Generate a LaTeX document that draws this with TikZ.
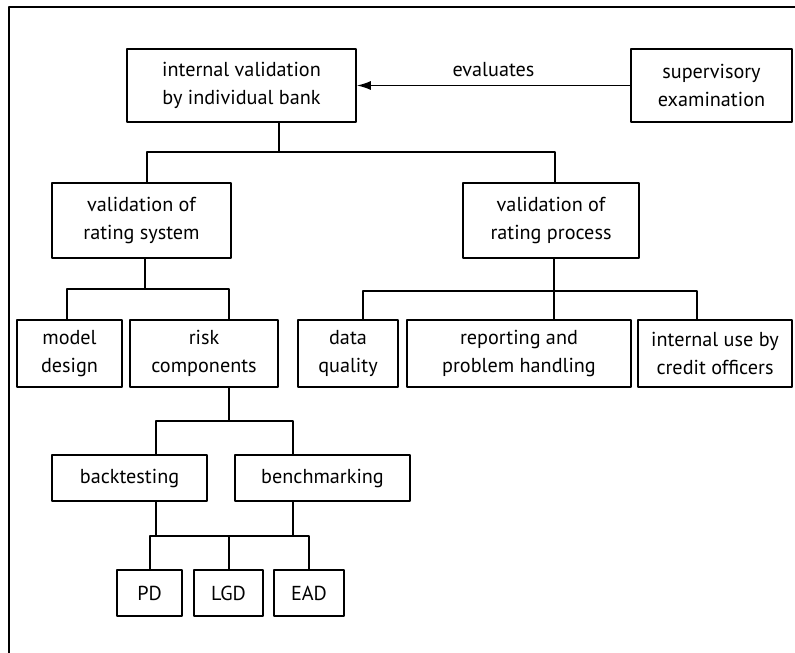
\documentclass[tikz,border=0pt]{standalone}
\usepackage{fontspec}
\setmainfont{PT Sans}
\usetikzlibrary{arrows.meta}
\begin{document}
\begin{tikzpicture}[x=1pt, y=-1pt, line join=round, >={Latex[length=14pt,width=9pt]},
	font=\fontsize{20.2}{28}\selectfont,
	box/.style={draw, line width=1.6pt, inner sep=0pt, align=center},
	link/.style={line width=1.6pt}]
		\useasboundingbox (0,0) rectangle (795,653);
		\draw[line width=2.4pt] (9,653)--(9,7)--(795,7);
		% boxes
		\node[box, minimum width=229, minimum height=73] (top) at (241.5,85.5) {internal validation\\by individual bank};
		\node[box, minimum width=161, minimum height=73] (sup) at (711.5,85.5) {supervisory\\examination};
		\node[box, minimum width=179, minimum height=75] (sys) at (141.5,220.5) {validation of\\rating system};
		\node[box, minimum width=176, minimum height=75] (proc) at (551,220.5) {validation of\\rating process};
		\node[box, minimum width=105, minimum height=67] (model) at (69.5,353.5) {model\\design};
		\node[box, minimum width=148, minimum height=67] (risk) at (204,353.5) {risk\\components};
		\node[box, minimum width=100, minimum height=67] (data) at (348,353.5) {data\\quality};
		\node[box, minimum width=224, minimum height=67] (report) at (519,353.5) {reporting and\\problem handling};
		\node[box, minimum width=154, minimum height=67] (use) at (715,353.5) {internal use by\\credit officers};
		\node[box, minimum width=155, minimum height=46] (back) at (129.5,478) {backtesting};
		\node[box, minimum width=175, minimum height=46] (bench) at (322.5,478) {benchmarking};
		\node[box, minimum width=65, minimum height=46] (pd) at (149.5,593) {PD};
		\node[box, minimum width=69, minimum height=46] (lgd) at (228.5,593) {LGD};
		\node[box, minimum width=70, minimum height=46] (ead) at (309,593) {EAD};
		% evaluates
		\draw[link,->] (sup.west)--(top.east) node[midway, above=5pt] {evaluates};
		% level 1
		\coordinate (a) at (279,152); \coordinate (al) at (147,152); \coordinate (ar) at (555,152);
		\draw[link] (top.south -| a)--(a);
		\draw[link] (sys.north -| al)|-(ar)--(proc.north -| ar);
		% level 2 left
		\coordinate (b) at (145,289); \coordinate (bl) at (67,289); \coordinate (br) at (229,289);
		\draw[link] (sys.south -| b)--(b);
		\draw[link] (model.north -| bl)|-(br)--(risk.north -| br);
		% level 2 right
		\coordinate (c) at (554,291); \coordinate (cl) at (363,291); \coordinate (cr) at (697,291);
		\draw[link] (proc.south -| c)--(c)--(report.north -| c);
		\draw[link] (data.north -| cl)|-(cr)--(use.north -| cr);
		% risk components
		\coordinate (d) at (229,421); \coordinate (dl) at (156,421); \coordinate (dr) at (293,421);
		\draw[link] (risk.south -| d)--(d);
		\draw[link] (back.north -| dl)|-(dr)--(bench.north -| dr);
		% PD, LGD, EAD
		\coordinate (el) at (150,536); \coordinate (em) at (229,536); \coordinate (er) at (309,536);
		\draw[link] (back.south -| dl)--(dl |- el);
		\draw[link] (bench.south -| dr)--(dr |- er);
		\draw[link] (pd.north -| el)|-(er)--(ead.north -| er);
		\draw[link] (em)--(lgd.north -| em);
	\end{tikzpicture}
\end{document}
